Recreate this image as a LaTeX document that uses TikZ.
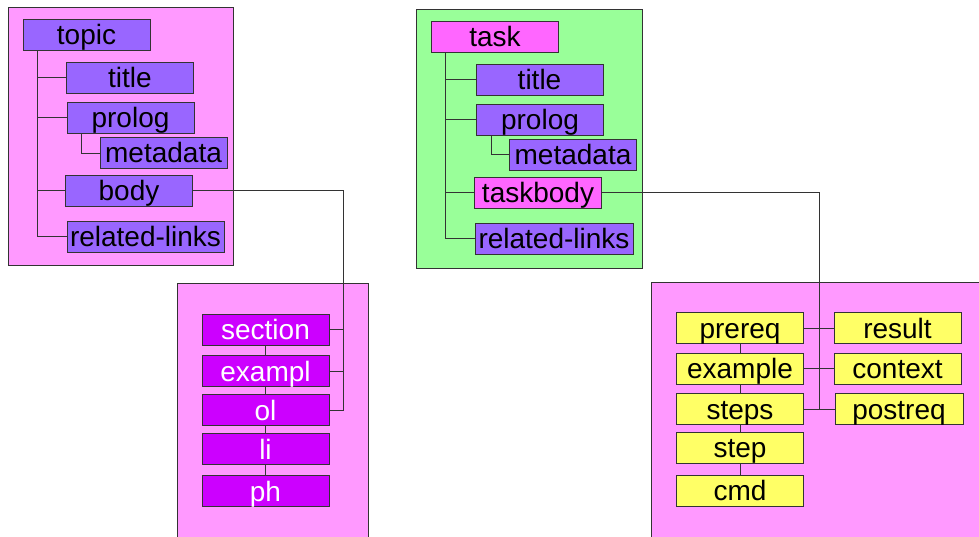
\documentclass[tikz,border=0pt]{standalone}
\usepackage{fontspec}
\setmainfont{Liberation Sans}
\definecolor{panelpink}{HTML}{FF99FF}
\definecolor{panelgreen}{HTML}{99FF99}
\definecolor{purplebox}{HTML}{9966FF}
\definecolor{magbox}{HTML}{FF66FF}
\definecolor{violetbox}{HTML}{CC00FF}
\definecolor{yellowbox}{HTML}{FFFF66}
\definecolor{linecol}{HTML}{333333}
\begin{document}
\begin{tikzpicture}[x=1pt,y=-1pt,
  panel/.style={draw=linecol, line width=0.9pt},
  elem/.style={draw=linecol, line width=0.8pt, inner sep=0pt, minimum width=127pt, minimum height=31pt,
    text height=20pt, text depth=0pt, font=\fontsize{28}{30}\selectfont},
  pbox/.style={elem, fill=purplebox},
  mbox/.style={elem, fill=magbox},
  vbox/.style={elem, fill=violetbox, text=white},
  ybox/.style={elem, fill=yellowbox},
  conn/.style={draw=linecol, line width=0.8pt}]
\useasboundingbox (0,0) rectangle (979,537);
\begin{scope}
\clip (0,0) rectangle (979,537);
% panels
\draw[panel, fill=panelpink] (8,7) rectangle (233,265);
\draw[panel, fill=panelpink] (177,283) rectangle (368,560);
\draw[panel, fill=panelgreen] (416,9) rectangle (642,268);
\draw[panel, fill=panelpink] (651,282) rectangle (1000,560);

% topic tree
\node[pbox] (topic) at (86.5,35) {topic};
\node[pbox] (ttitle) at (130,77.5) {title};
\node[pbox] (tprolog) at (130.5,117.5) {prolog};
\node[pbox] (tmeta) at (163.5,153) {metadata};
\node[pbox] (tbody) at (129,190.5) {body};
\node[pbox, minimum width=157pt] (trel) at (145.5,236.5) {related-links};

\coordinate (ttrunk) at (37,0);
\draw[conn] (topic.south -| ttrunk) |- (trel.west);
\draw[conn] (ttitle.west) -- (ttitle.west -| ttrunk);
\draw[conn] (tprolog.west) -- (tprolog.west -| ttrunk);
\draw[conn] (tbody.west) -- (tbody.west -| ttrunk);
\coordinate (tptrunk) at (81,0);
\draw[conn] (tprolog.south -| tptrunk) |- (tmeta.west);

% body contents
\node[vbox] (section) at (265.5,329.5) {section};
\node[vbox] (exampl) at (265.5,371) {exampl};
\node[vbox] (ol) at (265.5,410) {ol};
\node[vbox] (li) at (265.5,449) {li};
\node[vbox] (ph) at (265.5,491) {ph};
\draw[conn] (section.south) -- (exampl.north);
\draw[conn] (exampl.south) -- (ol.north);
\draw[conn] (ol.south) -- (li.north);
\draw[conn] (li.south) -- (ph.north);

\coordinate (bx) at (343,0);
\draw[conn] (tbody.east) -| (ol.east -| bx) -- (ol.east);
\draw[conn] (section.east) -- (section.east -| bx);
\draw[conn] (exampl.east) -- (exampl.east -| bx);

% task tree
\node[mbox] (task) at (495,36.5) {task};
\node[pbox] (ktitle) at (539.5,79.5) {title};
\node[pbox] (kprolog) at (540,119.5) {prolog};
\node[pbox] (kmeta) at (573,154.5) {metadata};
\node[mbox] (kbody) at (538,192.5) {taskbody};
\node[pbox, minimum width=158pt] (krel) at (554,238.5) {related-links};

\coordinate (ktrunk) at (445,0);
\draw[conn] (task.south -| ktrunk) |- (krel.west);
\draw[conn] (ktitle.west) -- (ktitle.west -| ktrunk);
\draw[conn] (kprolog.west) -- (kprolog.west -| ktrunk);
\draw[conn] (kbody.west) -- (kbody.west -| ktrunk);
\coordinate (kptrunk) at (491,0);
\draw[conn] (kprolog.south -| kptrunk) |- (kmeta.west);

% taskbody contents
\node[ybox] (prereq) at (740,328) {prereq};
\node[ybox] (example) at (740,368.5) {example};
\node[ybox] (steps) at (740,409) {steps};
\node[ybox] (step) at (740,447.5) {step};
\node[ybox] (cmd) at (740,490.5) {cmd};
\node[ybox] (result) at (897.5,328) {result};
\node[ybox] (context) at (897.5,368.5) {context};
\node[ybox, minimum width=128pt] (postreq) at (899,409) {postreq};
\draw[conn] (prereq.south) -- (example.north);
\draw[conn] (example.south) -- (steps.north);
\draw[conn] (steps.south) -- (step.north);
\draw[conn] (step.south) -- (cmd.north);

\coordinate (kx) at (819,0);
\draw[conn] (kbody.east) -| (steps.east -| kx);
\draw[conn] (prereq.east) -- (result.west);
\draw[conn] (example.east) -- (context.west);
\draw[conn] (steps.east) -- (postreq.west);
\end{scope}
\end{tikzpicture}
\end{document}
